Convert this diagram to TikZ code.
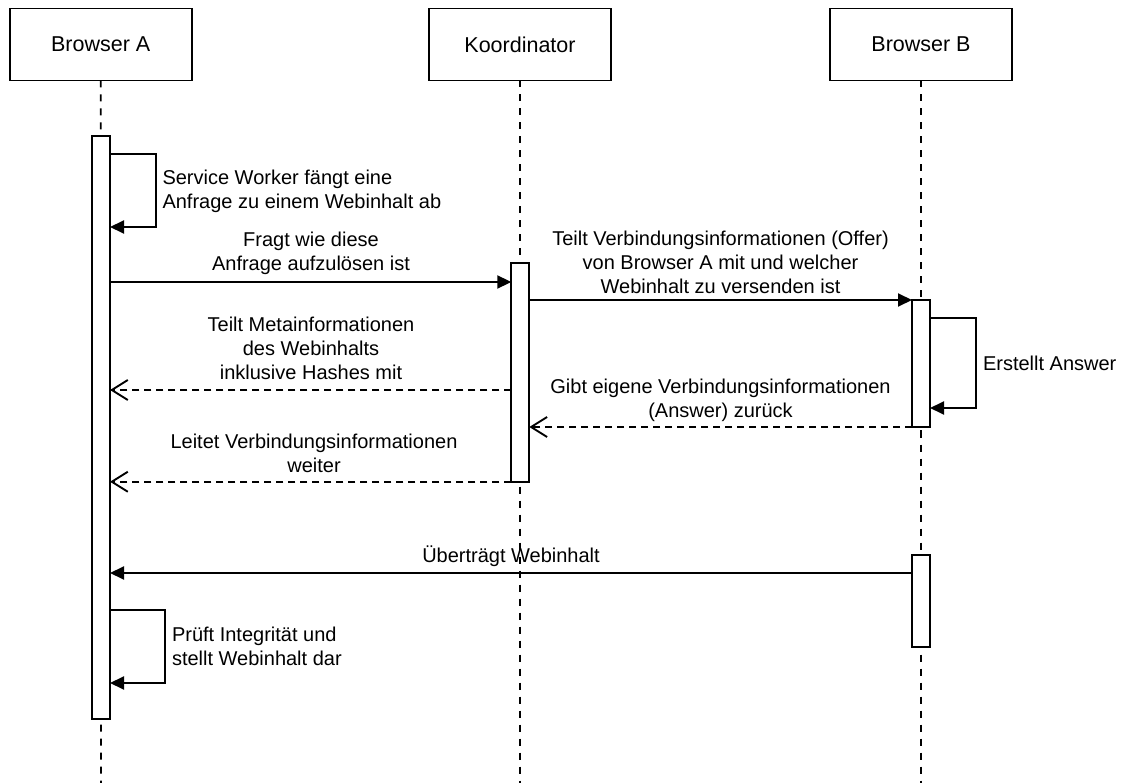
\documentclass[tikz,border=0pt]{standalone}
\usepackage{fontspec}
\setmainfont{Liberation Sans}
\usetikzlibrary{arrows.meta}
\begin{document}
\begin{tikzpicture}[x=1pt,y=-1pt,
  every node/.style={inner sep=0pt, outer sep=0pt},
  head/.style={draw, line width=1.9pt, fill=white, minimum width=182pt, minimum height=72pt,
    font=\fontsize{21.5}{26}\selectfont},
  lifeline/.style={line width=1.9pt, dash pattern=on 7pt off 7pt},
  act/.style={draw, line width=1.9pt, fill=white, minimum width=18pt},
  msg/.style={line width=1.9pt, -{Triangle[length=14pt,width=13pt]}},
  reply/.style={line width=1.9pt, dash pattern=on 7pt off 5pt,
    -{Straight Barb[length=16pt,width=20pt,line width=1.9pt]}},
  selfmsg/.style={line width=1.9pt, -{Triangle[length=14pt,width=13pt]}},
  lbl/.style={align=center, font=\fontsize{20}{24}\selectfont},
  note/.style={align=left, anchor=west, font=\fontsize{20}{24}\selectfont},
]
\useasboundingbox (0,0) rectangle (1122,783);

% participants
\node[head] (hA) at (100.7,44.5) {Browser A};
\node[head] (hK) at (520,44.5) {Koordinator};
\node[head] (hB) at (921,44.5) {Browser B};

% lifelines
\coordinate (endA) at (101,783);
\coordinate (endK) at (520,783);
\coordinate (endB) at (921,783);
\draw[lifeline] (hA.south) -- (endA);
\draw[lifeline] (hK.south) -- (endK);
\draw[lifeline] (hB.south) -- (endB);

% activation bars
\node[act, minimum height=583pt] (actA) at (101,427.5) {};
\node[act, minimum height=218.5pt] (actK) at (520.3,372.5) {};
\node[act, minimum height=127pt] (actB1) at (921,363.5) {};
\node[act, minimum height=92pt] (actB2) at (921,601) {};

% Browser A: service worker intercepts
\coordinate (swOut) at (156,154);
\coordinate (swBack) at (156,227);
\draw[selfmsg] (actA.east |- swOut) -- (swOut) -- (swBack) -- (actA.east |- swBack);
\node[note] (tSW) at (162.5,191.5) {Service Worker fängt eine\\Anfrage zu einem Webinhalt ab};

% A -> coordinator
\coordinate (m1) at (0,282);
\draw[msg] (actA.east |- m1) -- (actK.west |- m1);
\node[lbl] (tFragt) at (311,253) {Fragt wie diese\\Anfrage aufzulösen ist};

% coordinator -> B (offer)
\draw[msg] (actK.east |- actB1.north) -- (actB1.north west);
\node[lbl] (tOffer) at (720.5,262) {Teilt Verbindungsinformationen (Offer)\\von Browser A mit und welcher\\Webinhalt zu versenden ist};

% B creates answer
\coordinate (ansOut) at (976,318);
\coordinate (ansBack) at (976,408);
\draw[selfmsg] (actB1.east |- ansOut) -- (ansOut) -- (ansBack) -- (actB1.east |- ansBack);
\node[note] (tAns) at (983,363) {Erstellt Answer};

% coordinator -> A (meta information)
\coordinate (m3) at (0,390);
\draw[reply] (actK.west |- m3) -- (actA.east |- m3);
\node[lbl] (tMeta) at (311,348.5) {Teilt Metainformationen\\des Webinhalts\\inklusive Hashes mit};

% B -> coordinator (answer)
\draw[reply] (actB1.south west) -- (actK.east |- actB1.south);
\node[lbl] (tGibt) at (720.5,400) {Gibt eigene Verbindungsinformationen\\(Answer) zurück};

% coordinator -> A (forward)
\draw[reply] (actK.south west) -- (actA.east |- actK.south);
\node[lbl] (tLeit) at (314,453) {Leitet Verbindungsinformationen\\weiter};

% B -> A (content transfer)
\coordinate (m6) at (0,573);
\draw[msg] (actB2.west |- m6) -- (actA.east |- m6);
\node[lbl] (tUeb) at (511,556.5) {Überträgt Webinhalt};

% A verifies and renders
\coordinate (chkOut) at (165,610);
\coordinate (chkBack) at (165,683);
\draw[selfmsg] (actA.east |- chkOut) -- (chkOut) -- (chkBack) -- (actA.east |- chkBack);
\node[note] (tChk) at (172,646) {Prüft Integrität und\\stellt Webinhalt dar};
\end{tikzpicture}
\end{document}
